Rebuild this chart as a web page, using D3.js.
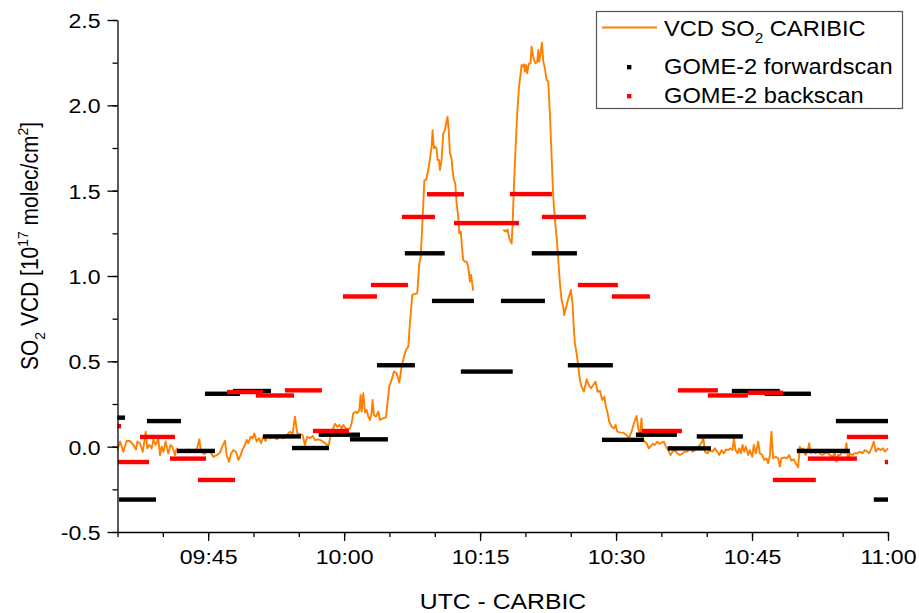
<!DOCTYPE html>
<html><head><meta charset="utf-8">
<script src="https://cdn.jsdelivr.net/npm/d3@7"></script>
<style>
html,body{margin:0;padding:0;background:#fff;}
svg text{font-family:"Liberation Sans",Arial,sans-serif;fill:#000;}
</style></head>
<body>
<svg id="chart" width="919" height="613"></svg>
<script>
// ---- DATA ----
// CARIBIC SO2 VCD time series: time in minutes after 09:00 UTC, VCD in 1e17 molec/cm2 (null = gap)
const caribicTimeMin = [
35.00,35.28,35.64,36.01,36.38,36.75,37.04,37.19,37.48,37.78,37.96,38.11,38.29,38.51,38.77,38.95,39.21,39.50,39.69,39.87,
40.06,40.31,40.60,40.86,41.08,41.34,41.53,41.78,42.08,42.45,42.81,43.18,43.55,43.80,44.03,44.21,44.58,44.83,45.20,45.57,
45.94,46.30,46.56,46.86,47.04,47.30,47.52,47.78,48.07,48.33,48.58,48.80,49.06,49.25,49.43,49.69,49.91,50.09,50.35,50.61,
50.83,51.08,51.34,51.56,51.82,52.19,52.56,52.92,53.29,53.66,54.03,54.32,54.58,54.83,55.13,55.42,55.68,55.94,56.23,56.53,
56.78,57.15,57.52,57.89,58.26,58.51,58.80,58.99,59.25,59.47,59.73,59.91,60.17,60.46,60.64,60.83,61.01,61.27,61.45,61.67,
61.82,61.93,62.12,62.30,62.48,62.67,62.85,63.03,63.14,63.29,63.51,63.77,63.95,64.25,64.61,64.76,64.98,65.24,65.50,65.79,
66.09,66.34,66.60,66.82,67.08,67.26,67.52,67.81,68.07,68.29,68.45,68.65,68.85,69.05,69.28,69.46,69.65,69.76,69.91,70.02,
70.20,70.31,70.46,70.57,70.75,70.94,71.12,71.30,71.41,71.56,71.67,71.85,71.96,72.11,72.26,72.41,72.59,72.70,72.88,72.99,
73.14,73.33,73.51,73.69,73.88,73.99,74.13,74.24,75.50,
77.56,77.85,78.03,78.22,78.48,78.59,78.73,78.92,79.10,79.28,79.47,79.58,79.69,79.84,79.95,80.06,80.20,80.31,80.42,80.57,
80.68,80.79,80.94,81.12,81.31,81.42,81.53,81.67,81.82,81.97,82.15,82.34,82.52,82.70,82.89,83.07,83.26,83.44,83.62,83.81,
83.99,84.17,84.28,84.54,84.80,85.02,85.20,85.35,85.46,85.65,85.83,86.01,86.20,86.45,86.75,87.00,87.23,87.48,87.74,87.96,
88.22,88.48,88.70,88.88,89.03,89.25,89.51,89.76,89.95,90.13,90.42,90.79,91.16,91.42,91.71,91.97,92.26,92.45,92.63,92.81,
92.92,93.18,93.36,93.62,94.03,94.28,94.54,94.76,95.02,95.28,95.50,95.76,96.01,96.23,96.49,96.75,97.04,97.34,97.59,97.85,
98.14,98.44,98.70,98.95,99.25,99.50,99.62,99.80,100.06,100.35,100.65,100.90,101.16,101.38,101.64,101.90,102.12,102.37,102.63,102.85,
103.00,103.18,103.40,103.59,103.77,103.95,104.14,104.32,104.58,104.76,105.02,105.20,105.42,105.68,105.86,106.12,106.34,106.60,106.78,106.97,
107.14,107.33,107.62,107.88,108.06,108.25,108.61,108.87,109.09,109.35,109.61,109.83,110.09,110.27,110.45,110.64,110.89,111.11,111.30,111.48,
111.74,112.00,112.22,112.47,112.77,113.03,113.28,113.58,113.87,114.13,114.31,114.50,114.75,114.97,115.23,115.42,115.60,115.78,116.08,116.33,
116.59,116.89,117.18,117.44,117.70,117.92,118.17,118.43,118.65,118.91,119.20,119.46,119.64,119.83,120.00
];
const caribicVCD = [
-0.02,0.03,-0.03,0.035,0.033,0.01,-0.016,0.03,0.02,-0.03,0.03,0.088,-0.01,0.01,-0.01,0.04,0.01,0.045,-0.05,0.0,
-0.03,0.03,-0.04,0.01,-0.004,-0.05,-0.01,-0.03,-0.02,-0.03,-0.016,-0.025,-0.03,-0.004,0.043,-0.03,-0.043,-0.03,-0.025,-0.06,
-0.05,-0.035,0.0,0.035,-0.05,-0.088,-0.04,-0.02,-0.03,-0.078,-0.05,-0.016,0.01,0.04,0.02,0.059,0.049,0.078,0.03,0.049,
0.02,0.059,0.033,0.068,0.049,0.059,0.043,0.059,0.049,0.068,0.088,0.072,0.176,0.078,0.075,0.068,0.01,0.059,0.049,0.063,
0.039,0.043,0.035,0.02,0.004,0.059,0.108,0.133,0.117,0.127,0.108,0.127,0.108,0.102,0.108,0.137,0.196,0.205,0.196,0.211,
0.303,0.205,0.313,0.2,0.215,0.176,0.156,0.196,0.274,0.186,0.176,0.205,0.156,0.166,0.172,0.244,0.352,0.391,0.44,0.43,
0.375,0.469,0.527,0.566,0.586,0.723,0.889,0.895,0.898,1.074,1.11,1.33,1.56,1.565,1.621,1.68,1.758,1.855,1.748,1.758,
1.748,1.68,1.68,1.621,1.68,1.836,1.855,1.904,1.934,1.836,1.719,1.689,1.621,1.563,1.543,1.426,1.348,1.25,1.26,1.172,
1.094,1.084,1.084,1.055,0.967,1.006,0.957,0.914,null,
1.27,1.26,1.273,1.221,1.191,1.309,1.523,1.758,1.953,2.1,2.188,2.236,2.227,2.24,2.197,2.236,2.188,2.227,2.246,2.246,
2.344,2.305,2.266,2.246,2.256,2.324,2.256,2.305,2.367,2.256,2.217,2.148,2.139,1.953,1.699,1.465,1.328,1.23,1.094,0.957,
0.859,0.82,0.771,0.83,0.879,0.918,0.84,0.684,0.605,0.547,0.469,0.391,0.352,0.322,0.395,0.361,0.342,0.361,0.381,0.322,
0.326,0.273,0.293,0.234,0.205,0.146,0.117,0.107,0.127,0.088,0.084,0.082,0.068,0.049,0.088,0.137,0.18,0.107,0.068,0.166,
0.049,0.029,0.02,-0.01,0.016,0.01,0.029,0.016,0.023,0.029,0.0,-0.02,-0.049,-0.029,-0.02,-0.039,-0.049,-0.039,-0.029,-0.029,
-0.01,-0.029,-0.02,-0.01,0.01,0.029,0.059,-0.029,-0.039,-0.02,-0.029,-0.01,-0.029,-0.049,-0.02,-0.039,-0.016,-0.02,-0.01,-0.02,
0.049,-0.02,-0.039,-0.01,-0.039,0.01,-0.029,0.0,-0.049,-0.02,-0.059,0.01,-0.039,0.029,-0.039,-0.049,-0.078,-0.068,-0.098,-0.05,
0.088,-0.068,-0.059,-0.068,-0.117,-0.068,-0.063,-0.068,-0.049,-0.082,-0.074,-0.098,-0.121,0.0,-0.02,-0.01,-0.049,-0.029,0.02,-0.039,
-0.029,-0.039,-0.029,-0.039,-0.049,-0.039,-0.035,-0.049,-0.059,-0.039,-0.088,-0.049,-0.049,-0.029,-0.039,0.02,-0.078,-0.039,-0.049,-0.039,
-0.039,-0.029,-0.039,-0.02,-0.029,-0.039,-0.01,0.029,-0.029,-0.01,-0.02,-0.01,-0.029,-0.02,-0.01
];

// GOME-2 ground pixels: start / end (minutes after 09:00 UTC) and VCD
const fwdStart = [35.0,35.17,38.25,41.56,44.65,47.74,51.05,54.25,57.2,60.64,63.62,66.7,69.69,72.88,77.3,80.7,84.68,88.44,92.19,95.7,98.9,102.77,106.4,109.94,114.25,118.43];
const fwdEnd   = [35.83,39.25,42.0,45.75,48.5,51.93,55.24,58.33,61.75,64.83,67.81,71.1,74.32,78.6,82.15,85.68,89.65,93.07,96.71,100.46,103.99,108.06,111.5,115.79,120.0,120.0];
const fwdVCD   = [0.17,-0.31,0.15,-0.025,0.31,0.326,0.06,-0.008,0.07,0.043,0.477,1.133,0.854,0.44,0.854,1.133,0.477,0.04,0.07,-0.01,0.06,0.326,0.31,-0.025,0.15,-0.31];

const backStart = [35.0,35.05,37.48,40.79,43.88,47.08,50.27,53.47,56.56,59.87,62.96,66.38,69.14,72.12,78.29,81.82,85.79,89.54,92.85,96.82,100.13,104.54,107.3,111.16,115.46,119.65];
const backEnd   = [35.4,38.47,41.34,44.76,47.96,51.05,54.47,57.55,60.53,63.62,67.04,70.02,73.22,79.29,82.92,86.67,90.2,93.73,97.26,101.23,104.54,108.4,112.04,116.57,120.0,120.0];
const backVCD   = [0.12,-0.09,0.057,-0.07,-0.195,0.32,0.30,0.33,0.092,0.88,0.947,1.346,1.479,1.31,1.48,1.346,0.947,0.88,0.092,0.33,0.30,0.316,-0.195,-0.07,0.057,-0.09];

const yTicksMajor = [-0.5,0.0,0.5,1.0,1.5,2.0,2.5];
const xTickLabels = ["09:45","10:00","10:15","10:30","10:45","11:00"];
const legendLabels = ["VCD SO|2| CARIBIC","GOME-2 forwardscan","GOME-2 backscan"];

// ---- CHART ----
const base = new Date(2000,0,1,9,0,0);
const atMin = m => new Date(base.getTime() + m*60000);
const parseHM = d3.timeParse("%H:%M");
const hm = s => { const d = parseHM(s); return new Date(2000,0,1,d.getHours(),d.getMinutes()); };

const svg = d3.select("#chart");
const SX = 1.1; // horizontal glyph stretch seen in the reference

const x = d3.scaleTime().domain([atMin(35), atMin(120)]).range([117.5, 888]);
const y = d3.scaleLinear().domain([-0.5, 2.5]).range([532, 20]);

const colors = {line:"#FF8000", fwd:"#000000", back:"#FF0000"};

// CARIBIC line (drawn first)
const caribic = caribicTimeMin.map((t,i)=>({t:atMin(t), v:caribicVCD[i]}));
svg.append("path")
  .datum(caribic)
  .attr("fill","none").attr("stroke",colors.line).attr("stroke-width",1.9)
  .attr("stroke-linejoin","round")
  .attr("d", d3.line().defined(d=>d.v!==null).x(d=>x(d.t)).y(d=>y(d.v)));

// GOME-2 bars
function bars(starts, ends, vals, col){
  const data = starts.map((s,i)=>({s:atMin(s), e:atMin(ends[i]), v:vals[i]}));
  svg.append("g").selectAll("rect").data(data).join("rect")
    .attr("x", d=>x(d.s)).attr("width", d=>x(d.e)-x(d.s))
    .attr("y", d=>y(d.v)-2.2).attr("height",4.4)
    .attr("fill", col);
}
bars(fwdStart, fwdEnd, fwdVCD, colors.fwd);
bars(backStart, backEnd, backVCD, colors.back);

// Axes
const gx = svg.append("g").attr("transform","translate(0,532)");
const minorX = d3.timeMinute.every(5).range(atMin(35), atMin(120.01));
gx.call(d3.axisBottom(x).tickValues(minorX).tickSize(5).tickSizeOuter(0).tickFormat(""));
gx.selectAll("text").remove();
const gxM = svg.append("g").attr("transform","translate(0,532)");
gxM.call(d3.axisBottom(x).tickValues(xTickLabels.map(hm)).tickSize(9).tickSizeOuter(0).tickFormat(d3.timeFormat("%H:%M")));
gxM.select(".domain").remove();
gxM.selectAll("text").attr("y",32).attr("dy",0).attr("font-size",21)
  .attr("transform",`scale(${SX},1)`);

const gy = svg.append("g").attr("transform","translate(117.5,0)");
gy.call(d3.axisLeft(y).tickValues(d3.range(-0.5,2.51,0.25)).tickSize(5).tickSizeOuter(0).tickFormat(""));
gy.selectAll("text").remove();
const gyM = svg.append("g").attr("transform","translate(117.5,0)");
gyM.call(d3.axisLeft(y).tickValues(yTicksMajor).tickSize(10).tickSizeOuter(0).tickFormat(d=>d.toFixed(1)));
gyM.select(".domain").remove();
gyM.selectAll("text").attr("x",-17/SX).attr("dy","0.36em").attr("font-size",21)
  .attr("transform",`scale(${SX},1)`);

svg.selectAll(".domain, .tick line").attr("stroke","#000").attr("stroke-width",1.3);

// Axis titles
svg.append("text").attr("transform",`translate(503,609) scale(${SX},1)`)
  .attr("text-anchor","middle").attr("font-size",22.5).text("UTC - CARBIC");

const yt = svg.append("text").attr("transform",`translate(38,246) scale(${SX},1) rotate(-90)`)
  .attr("text-anchor","middle").attr("font-size",21);
yt.append("tspan").text("SO");
yt.append("tspan").attr("font-size",14).attr("dy",6).text("2");
yt.append("tspan").attr("dy",-6).text(" VCD [10");
yt.append("tspan").attr("font-size",14).attr("dy",-9).text("17");
yt.append("tspan").attr("dy",9).text(" molec/cm");
yt.append("tspan").attr("font-size",14).attr("dy",-9).text("2");
yt.append("tspan").attr("dy",9).text("]");

// Legend
const lg = svg.append("g");
lg.append("rect").attr("x",596.5).attr("y",11.5).attr("width",306).attr("height",97)
  .attr("fill","#fff").attr("stroke","#555").attr("stroke-width",1.2);
lg.append("line").attr("x1",602).attr("x2",657).attr("y1",27.5).attr("y2",27.5)
  .attr("stroke",colors.line).attr("stroke-width",1.9);
lg.append("rect").attr("x",627).attr("y",65).attr("width",4.4).attr("height",4.4).attr("fill",colors.fwd);
lg.append("rect").attr("x",627).attr("y",94).attr("width",4.4).attr("height",4.4).attr("fill",colors.back);
const rowsY = [35.5, 74, 103.3];
legendLabels.forEach((lab,i)=>{
  const t = lg.append("text").attr("transform",`translate(664,${rowsY[i]}) scale(${SX},1)`).attr("font-size",21.5);
  const parts = lab.split("|");
  parts.forEach((p,j)=>{
    if(j%2===1){ t.append("tspan").attr("font-size",14).attr("dy",7).text(p); }
    else { t.append("tspan").attr("dy", j>0?-7:0).text(p); }
  });
});
</script>
</body></html>
